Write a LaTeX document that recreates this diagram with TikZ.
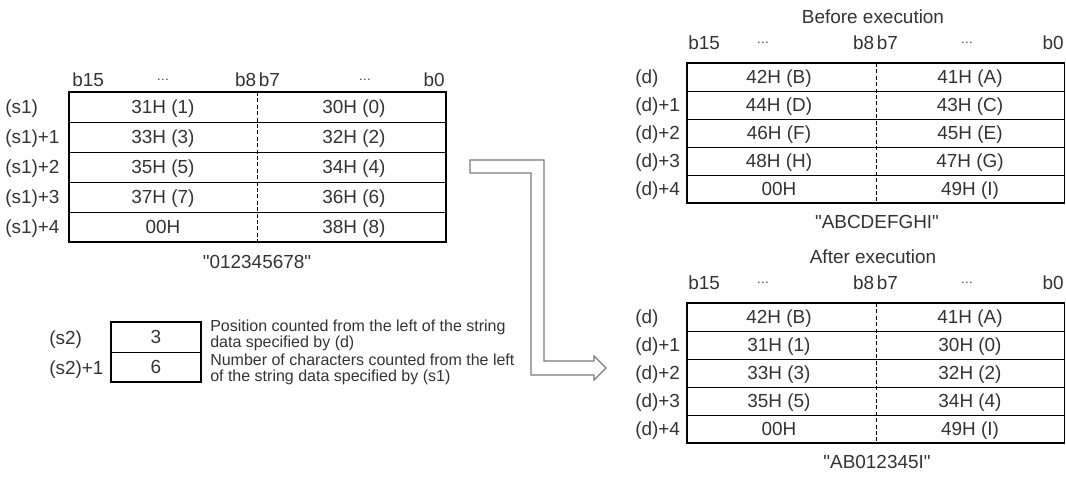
\documentclass[tikz,border=0pt]{standalone}
\usepackage{fontspec}
\setmainfont{Liberation Sans}[Ligatures=TeXOff]
\usetikzlibrary{positioning}
\definecolor{TextGray}{HTML}{333333}
\definecolor{ArrowGray}{HTML}{7A7A7A}
\tikzset{
  lbl/.style={font=\fontsize{14.2}{16}\selectfont,text=TextGray,inner sep=0pt,text height=10pt,text depth=0pt},
  dots/.style={font=\fontsize{9.5}{10}\selectfont,text=TextGray,inner sep=0pt},
  note/.style={font=\fontsize{12}{12}\selectfont,text=TextGray,align=left,inner sep=0pt,anchor=west},
  frame/.style={draw=black,line width=1.3pt},
  rowline/.style={draw=black,line width=0.75pt},
  halfline/.style={draw=black,line width=0.6pt,dash pattern=on 3pt off 1.8pt},
  hollowarrow/.style={draw=ArrowGray,line width=0.9pt,fill=white}
}

\begin{document}
\begin{tikzpicture}[x=0.75pt,y=-0.75pt]
  \useasboundingbox (0,0) rectangle (1066,476);

  % source string (s1)
  \node[lbl,anchor=west] (s1b15) at (72,80) {b15};
  \node[dots] (s1dotsA) at (163,80) {…};
  \node[lbl,anchor=east] (s1b8) at (256.5,80) {b8};
  \node[lbl,anchor=west] (s1b7) at (258.5,80) {b7};
  \node[dots] (s1dotsB) at (365,80) {…};
  \node[lbl,anchor=east] (s1b0) at (445,80) {b0};
  \draw[frame] (69,92) rectangle (446,242);
  \foreach \i in {1,...,4}
    \draw[rowline] (69,92+30*\i) -- (446,92+30*\i);
  \draw[halfline] (257.5,92) -- (257.5,242);
  \foreach \lab/\hi/\lo [count=\i from 0] in {{(s1)}/{31H (1)}/{30H (0)},{(s1)+1}/{33H (3)}/{32H (2)},{(s1)+2}/{35H (5)}/{34H (4)},{(s1)+3}/{37H (7)}/{36H (6)},{(s1)+4}/{00H}/{38H (8)}}{
    \node[lbl,anchor=west] (s1lab\i) at (5,107+30*\i) {\lab};
    \node[lbl] (s1hi\i) at (163,107+30*\i) {\hi};
    \node[lbl] (s1lo\i) at (354,107+30*\i) {\lo};
  }
  \node[lbl] (s1str) at (257,262) {"012345678"};

  % transfer arrow
  \coordinate (arrowtail) at (470,160);
  \draw[hollowarrow] (arrowtail) -- ++(74,0) -- ++(0,201) -- ++(50,0) -- ++(0,-5)
    -- ++(12,12) -- ++(-12,12) -- ++(0,-5) -- ++(-63,0) -- ++(0,-202) -- ++(-61,0) -- cycle;

  % positions (s2)
  \draw[frame] (111,322) rectangle (201,382);
  \draw[rowline] (111,352) -- (201,352);
  \node[lbl,anchor=west] (s2lab) at (49,338) {(s2)};
  \node[lbl,anchor=west] (s2labB) at (49,368) {(s2)+1};
  \node[lbl] (s2pos) at (156,337) {3};
  \node[lbl] (s2num) at (156,367) {6};
  \node[note] (notepos) at (210,335) {Position counted from the left of the string\\data specified by (d)};
  \node[note] (notenum) at (210,369.5) {Number of characters counted from the left\\of the string data specified by (s1)};

  % destination (d), before and after
  \foreach \top/\title/\str/\tag in {63/Before execution/"ABCDEFGHI"/pre,303/After execution/"AB012345I"/post}{
    \node[lbl] (\tag title) at (873,\top-46) {\title};
    \node[lbl,anchor=west] (\tag b15) at (688,\top-20) {b15};
    \node[dots] (\tag dotsA) at (763,\top-20) {…};
    \node[lbl,anchor=east] (\tag b8) at (874.5,\top-20) {b8};
    \node[lbl,anchor=west] (\tag b7) at (876.5,\top-20) {b7};
    \node[dots] (\tag dotsB) at (967,\top-20) {…};
    \node[lbl,anchor=east] (\tag b0) at (1064,\top-20) {b0};
    \draw[frame] (687,\top) rectangle (1064.5,\top+140);
    \foreach \i in {1,...,4}
      \draw[rowline] (687,\top+28*\i) -- (1064.5,\top+28*\i);
    \draw[halfline] (876,\top) -- (876,\top+140);
    \node[lbl] (\tag str) at (877,\top+159) {\str};
  }
  \foreach \lab/\hi/\lo [count=\i from 0] in {{(d)}/{42H (B)}/{41H (A)},{(d)+1}/{44H (D)}/{43H (C)},{(d)+2}/{46H (F)}/{45H (E)},{(d)+3}/{48H (H)}/{47H (G)},{(d)+4}/{00H}/{49H (I)}}{
    \node[lbl,anchor=west] (prelab\i) at (635,77+28*\i) {\lab};
    \node[lbl] (prehi\i) at (779,77+28*\i) {\hi};
    \node[lbl] (prelo\i) at (970,77+28*\i) {\lo};
  }
  \foreach \lab/\hi/\lo [count=\i from 0] in {{(d)}/{42H (B)}/{41H (A)},{(d)+1}/{31H (1)}/{30H (0)},{(d)+2}/{33H (3)}/{32H (2)},{(d)+3}/{35H (5)}/{34H (4)},{(d)+4}/{00H}/{49H (I)}}{
    \node[lbl,anchor=west] (postlab\i) at (635,317+28*\i) {\lab};
    \node[lbl] (posthi\i) at (779,317+28*\i) {\hi};
    \node[lbl] (postlo\i) at (970,317+28*\i) {\lo};
  }
\end{tikzpicture}
\end{document}
